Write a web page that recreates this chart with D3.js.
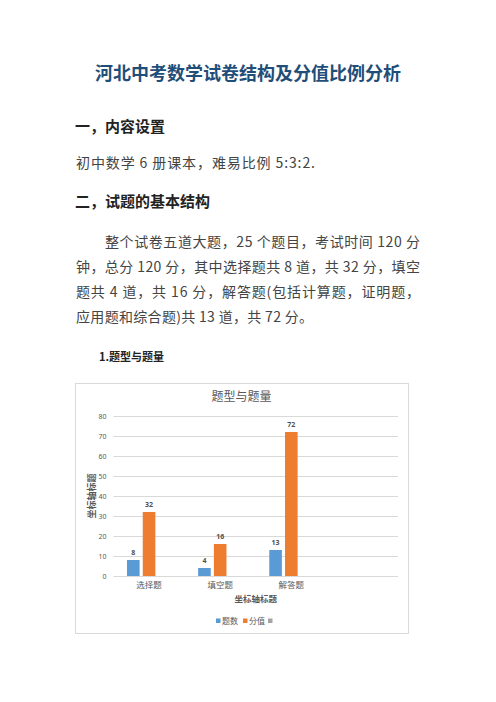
<!DOCTYPE html>
<html>
<head>
<meta charset="utf-8">
<script src="https://cdn.jsdelivr.net/npm/d3@7"></script>
<style>
  html, body { margin: 0; padding: 0; background: #fff; }
  svg { display: block; font-family: "Noto Sans CJK SC", "Noto Sans", sans-serif; }
</style>
</head>
<body>
<svg id="page" width="496" height="702"></svg>
<script>
// chart data
const categories = ["选择题", "填空题", "解答题", ""];
const seriesNames = ["题数", "分值", ""];
const questionCounts = [8, 4, 13, null];
const scoreValues = [32, 16, 72, null];
const emptySeries = [null, null, null, null];
const yTicks = [0, 10, 20, 30, 40, 50, 60, 70, 80];

// page text
const pageTitle = "河北中考数学试卷结构及分值比例分析";
const paragraphLines = [
    "整个试卷五道大题，25 个题目，考试时间 120 分",
    "钟，总分 120 分，其中选择题共 8 道，共 32 分，填空",
    "题共 4 道，共 16 分，解答题(包括计算题，证明题，",
    "应用题和综合题)共 13 道，共 72 分。"
];
const lineWidths = [315, 344, 344, 237];

const CONFIG = {
    frame: { x: 75, y: 383, w: 333, h: 250 },
    plot: { left: 113.5, right: 398, top: 416, bottom: 576 },
    colors: ["#5B9BD5", "#ED7D31", "#A5A5A5"],
    grid: "#D9D9D9",
    axisText: "#595959"
};

const svg = d3.select("#page");

// ---- document text ----
svg.append("text")
    .attr("x", 248).attr("y", 80)
    .attr("text-anchor", "middle")
    .attr("font-size", 18).attr("font-weight", "bold")
    .attr("fill", "#1F4E79")
    .text(pageTitle);

const heading = (txt, y) => svg.append("text")
    .attr("x", 75).attr("y", y)
    .attr("font-size", 15).attr("font-weight", "bold")
    .attr("fill", "#222")
    .text(txt);

heading("一，内容设置", 132);
heading("二，试题的基本结构", 207);

svg.append("text")
    .attr("x", 76).attr("y", 168)
    .attr("font-size", 14).attr("fill", "#444")
    .attr("textLength", 239).attr("lengthAdjust", "spacing")
    .text("初中数学 6 册课本，难易比例 5:3:2.");

// paragraph, justified to the measured line widths
paragraphLines.forEach((line, i) => {
    svg.append("text")
        .attr("x", i === 0 ? 105 : 76)
        .attr("y", 247 + i * 25)
        .attr("font-size", 14).attr("fill", "#444")
        .attr("textLength", lineWidths[i]).attr("lengthAdjust", "spacing")
        .text(line);
});

svg.append("text")
    .attr("x", 99).attr("y", 361)
    .attr("font-size", 11).attr("font-weight", "bold")
    .attr("fill", "#222")
    .text("1.题型与题量");

// ---- chart ----
const f = CONFIG.frame, p = CONFIG.plot;

svg.append("rect")
    .attr("x", f.x + 0.5).attr("y", f.y + 0.5)
    .attr("width", f.w).attr("height", f.h)
    .attr("fill", "#fff").attr("stroke", CONFIG.grid);

svg.append("text")
    .attr("x", f.x + f.w / 2).attr("y", 401)
    .attr("text-anchor", "middle")
    .attr("font-size", 12).attr("fill", CONFIG.axisText)
    .text("题型与题量");

const x = d3.scaleBand()
    .domain(d3.range(categories.length))
    .range([p.left, p.right])
    .paddingInner(0.38).paddingOuter(0.19);

const xs = d3.scaleBand()
    .domain(d3.range(seriesNames.length))
    .range([0, x.bandwidth()])
    .paddingInner(0.2);

const y = d3.scaleLinear().domain([0, 80]).range([p.bottom, p.top]);

// gridlines + y tick labels
const yAxis = svg.append("g")
    .attr("transform", `translate(${p.left},0)`)
    .call(d3.axisLeft(y).tickValues(yTicks).tickSize(-(p.right - p.left)).tickPadding(7));
yAxis.select(".domain").remove();
yAxis.selectAll(".tick line").attr("stroke", CONFIG.grid);
yAxis.selectAll(".tick text")
    .attr("font-size", 7).attr("fill", CONFIG.axisText)
    .attr("font-family", "Noto Sans, sans-serif");

// x labels
const xAxis = svg.append("g")
    .attr("transform", `translate(0,${p.bottom})`)
    .call(d3.axisBottom(x).tickFormat(i => categories[i]).tickSize(0).tickPadding(6));
xAxis.select(".domain").remove();
xAxis.selectAll(".tick text")
    .attr("font-size", 8.5).attr("fill", CONFIG.axisText)
    .attr("font-family", "Noto Sans CJK SC");

// bars
const allSeries = [questionCounts, scoreValues, emptySeries];
allSeries.forEach((vals, s) => {
    const g = svg.append("g");
    const data = vals.map((v, i) => ({ i, v })).filter(d => d.v != null);
    g.selectAll("rect")
        .data(data)
        .join("rect")
        .attr("x", d => x(d.i) + xs(s))
        .attr("y", d => y(d.v))
        .attr("width", xs.bandwidth())
        .attr("height", d => y(0) - y(d.v))
        .attr("fill", CONFIG.colors[s]);
    g.selectAll("text")
        .data(data)
        .join("text")
        .attr("x", d => x(d.i) + xs(s) + xs.bandwidth() / 2)
        .attr("y", d => y(d.v) - 5)
        .attr("text-anchor", "middle")
        .attr("font-size", 7).attr("font-weight", "bold")
        .attr("font-family", "Noto Sans, sans-serif")
        .attr("fill", "#505050")
        .text(d => d.v);
});

// axis titles
svg.append("text")
    .attr("x", (p.left + p.right) / 2).attr("y", 602)
    .attr("text-anchor", "middle")
    .attr("font-size", 8.5).attr("font-weight", "bold")
    .attr("fill", CONFIG.axisText)
    .text("坐标轴标题");

svg.append("text")
    .attr("transform", `translate(95,${(p.top + p.bottom) / 2}) rotate(-90)`)
    .attr("text-anchor", "middle")
    .attr("font-size", 9).attr("font-weight", "bold")
    .attr("fill", CONFIG.axisText)
    .text("坐标轴标题");

// legend
const legendX = [216, 243, 268];
const legend = svg.append("g");
seriesNames.forEach((name, s) => {
    legend.append("rect")
        .attr("x", legendX[s]).attr("y", 618.5)
        .attr("width", 4.5).attr("height", 4.5)
        .attr("fill", CONFIG.colors[s]);
    legend.append("text")
        .attr("x", legendX[s] + 6).attr("y", 624)
        .attr("font-size", 8).attr("fill", CONFIG.axisText)
        .text(name);
});
</script>
</body>
</html>
